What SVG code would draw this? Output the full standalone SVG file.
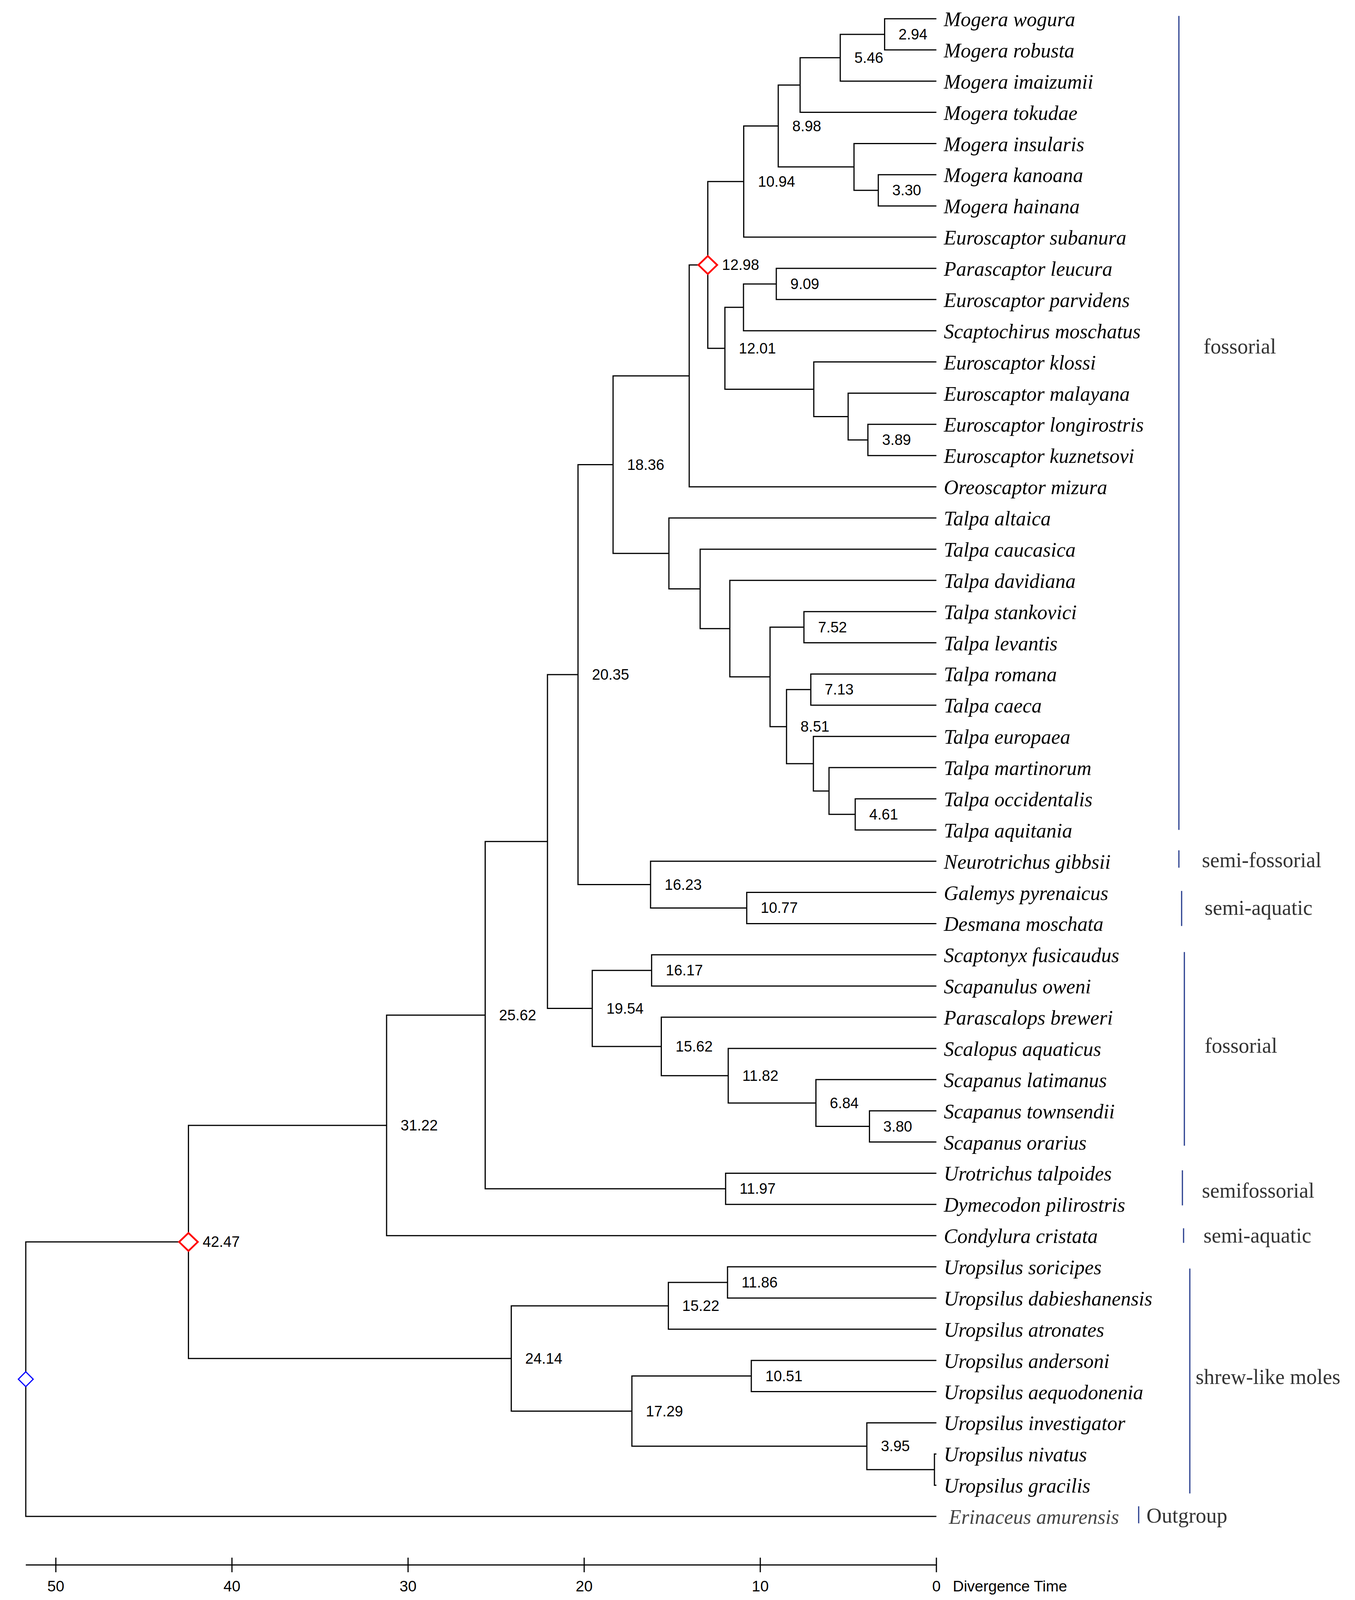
<svg xmlns="http://www.w3.org/2000/svg" width="3470" height="4610" viewBox="0 0 3470 4610">
<style>
.br{fill:none;stroke:#000;stroke-width:3;stroke-linejoin:miter;vector-effect:non-scaling-stroke}
.sp{font-family:"Liberation Serif","Times New Roman",serif;font-style:italic;font-size:52px;fill:#000}
.nl{font-family:"Liberation Sans",Arial,sans-serif;font-size:38px;fill:#000}
.gl{font-family:"Liberation Serif","Times New Roman",serif;font-size:54px;fill:#333}
.bar{stroke:#243a8c;stroke-width:3;vector-effect:non-scaling-stroke}
.tk{stroke:#000;stroke-width:3;vector-effect:non-scaling-stroke}
.ax{font-family:"Liberation Sans",Arial,sans-serif;font-size:39px;fill:#000}
.rd{fill:#fff;stroke:#f00;stroke-width:4.5}
.bd{fill:#fff;stroke:#00f;stroke-width:3}
</style>
<rect width="3470" height="4610" fill="#fff"/>
<g id="connectors" transform="scale(1 0.888503)">
<path class="br" d="M2398 54 H2265.4 V143.9 H2398"/>
<path class="br" d="M2265.4 98.95 H2151.8 V233.8 H2398"/>
<path class="br" d="M2151.8 166.4 H2049 V323.7 H2398"/>
<path class="br" d="M2398 503.5 H2249.2 V593.4 H2398"/>
<path class="br" d="M2398 413.6 H2187 V548.45 H2249.2"/>
<path class="br" d="M2049 245 H1993 V481 H2187"/>
<path class="br" d="M1993 363 H1904.6 V683.3 H2398"/>
<path class="br" d="M2398 773.2 H1988 V863.1 H2398"/>
<path class="br" d="M1988 818.15 H1904 V953 H2398"/>
<path class="br" d="M2398 1222.7 H2222.6 V1312.6 H2398"/>
<path class="br" d="M2398 1132.8 H2172 V1267.65 H2222.6"/>
<path class="br" d="M2398 1042.9 H2084 V1200.2 H2172"/>
<path class="br" d="M1904 885.6 H1856.4 V1121.6 H2084"/>
<path class="br" d="M1904.6 523.2 H1812.6 V1003.6 H1856.4"/>
<path class="br" d="M1812.6 763.4 H1765 V1402.5 H2398"/>
<path class="br" d="M2398 2301.5 H2190.1 V2391.4 H2398"/>
<path class="br" d="M2398 2211.6 H2123 V2346.45 H2190.1"/>
<path class="br" d="M2398 2121.7 H2083 V2279 H2123"/>
<path class="br" d="M2398 1941.9 H2076.4 V2031.8 H2398"/>
<path class="br" d="M2076.4 1986.85 H2014.2 V2200.4 H2083"/>
<path class="br" d="M2398 1762.1 H2058.8 V1852 H2398"/>
<path class="br" d="M2058.8 1807.05 H1972 V2093.6 H2014.2"/>
<path class="br" d="M2398 1672.2 H1869 V1950.3 H1972"/>
<path class="br" d="M2398 1582.3 H1793 V1811.25 H1869"/>
<path class="br" d="M2398 1492.4 H1713 V1696.8 H1793"/>
<path class="br" d="M1765 1083 H1570 V1594.6 H1713"/>
<path class="br" d="M2398 2571.2 H1912.3 V2661.1 H2398"/>
<path class="br" d="M2398 2481.3 H1666 V2616.15 H1912.3"/>
<path class="br" d="M1570 1338.8 H1480.2 V2548.7 H1666"/>
<path class="br" d="M2398 2751 H1668.7 V2840.9 H2398"/>
<path class="br" d="M2398 3200.5 H2226.6 V3290.4 H2398"/>
<path class="br" d="M2398 3110.6 H2089.5 V3245.45 H2226.6"/>
<path class="br" d="M2398 3020.7 H1864.9 V3178 H2089.5"/>
<path class="br" d="M2398 2930.8 H1693.5 V3099.35 H1864.9"/>
<path class="br" d="M1668.7 2795.95 H1516.7 V3015.1 H1693.5"/>
<path class="br" d="M1480.2 1943.75 H1402 V2905.5 H1516.7"/>
<path class="br" d="M2398 3380.3 H1858.2 V3470.2 H2398"/>
<path class="br" d="M1402 2424.6 H1242.5 V3425.25 H1858.2"/>
<path class="br" d="M1242.5 2924.9 H990 V3560.1 H2398"/>
<path class="br" d="M2398 3650 H1863.1 V3739.9 H2398"/>
<path class="br" d="M1863.1 3694.95 H1711.6 V3829.8 H2398"/>
<path class="br" d="M2398 3919.7 H1924 V4009.6 H2398"/>
<path class="br" d="M2398 4189.4 H2393 V4279.3 H2398"/>
<path class="br" d="M2398 4099.5 H2219.9 V4234.35 H2393"/>
<path class="br" d="M1924 3964.65 H1618.2 V4166.9 H2219.9"/>
<path class="br" d="M1711.6 3762.4 H1309.3 V4065.8 H1618.2"/>
<path class="br" d="M990 3242.5 H482.6 V3914.1 H1309.3"/>
<path class="br" d="M482.6 3578.3 H66 V4369.2 H2398"/>
</g>
<g id="leaves">
<g id="leaf-01"><text class="sp" x="2417" y="67">Mogera wogura</text></g>
<g id="leaf-02"><text class="sp" x="2417" y="146.9">Mogera robusta</text></g>
<g id="leaf-03"><text class="sp" x="2417" y="226.7">Mogera imaizumii</text></g>
<g id="leaf-04"><text class="sp" x="2417" y="306.6">Mogera tokudae</text></g>
<g id="leaf-05"><text class="sp" x="2417" y="386.5">Mogera insularis</text></g>
<g id="leaf-06"><text class="sp" x="2417" y="466.4">Mogera kanoana</text></g>
<g id="leaf-07"><text class="sp" x="2417" y="546.2">Mogera hainana</text></g>
<g id="leaf-08"><text class="sp" x="2417" y="626.1">Euroscaptor subanura</text></g>
<g id="leaf-09"><text class="sp" x="2417" y="706">Parascaptor leucura</text></g>
<g id="leaf-10"><text class="sp" x="2417" y="785.9">Euroscaptor parvidens</text></g>
<g id="leaf-11"><text class="sp" x="2417" y="865.7">Scaptochirus moschatus</text></g>
<g id="leaf-12"><text class="sp" x="2417" y="945.6">Euroscaptor klossi</text></g>
<g id="leaf-13"><text class="sp" x="2417" y="1025.5">Euroscaptor malayana</text></g>
<g id="leaf-14"><text class="sp" x="2417" y="1105.4">Euroscaptor longirostris</text></g>
<g id="leaf-15"><text class="sp" x="2417" y="1185.2">Euroscaptor kuznetsovi</text></g>
<g id="leaf-16"><text class="sp" x="2417" y="1265.1">Oreoscaptor mizura</text></g>
<g id="leaf-17"><text class="sp" x="2417" y="1345">Talpa altaica</text></g>
<g id="leaf-18"><text class="sp" x="2417" y="1424.9">Talpa caucasica</text></g>
<g id="leaf-19"><text class="sp" x="2417" y="1504.7">Talpa davidiana</text></g>
<g id="leaf-20"><text class="sp" x="2417" y="1584.6">Talpa stankovici</text></g>
<g id="leaf-21"><text class="sp" x="2417" y="1664.5">Talpa levantis</text></g>
<g id="leaf-22"><text class="sp" x="2417" y="1744.4">Talpa romana</text></g>
<g id="leaf-23"><text class="sp" x="2417" y="1824.2">Talpa caeca</text></g>
<g id="leaf-24"><text class="sp" x="2417" y="1904.1">Talpa europaea</text></g>
<g id="leaf-25"><text class="sp" x="2417" y="1984">Talpa martinorum</text></g>
<g id="leaf-26"><text class="sp" x="2417" y="2063.9">Talpa occidentalis</text></g>
<g id="leaf-27"><text class="sp" x="2417" y="2143.7">Talpa aquitania</text></g>
<g id="leaf-28"><text class="sp" x="2417" y="2223.6">Neurotrichus gibbsii</text></g>
<g id="leaf-29"><text class="sp" x="2417" y="2303.5">Galemys pyrenaicus</text></g>
<g id="leaf-30"><text class="sp" x="2417" y="2383.4">Desmana moschata</text></g>
<g id="leaf-31"><text class="sp" x="2417" y="2463.3">Scaptonyx fusicaudus</text></g>
<g id="leaf-32"><text class="sp" x="2417" y="2543.1">Scapanulus oweni</text></g>
<g id="leaf-33"><text class="sp" x="2417" y="2623">Parascalops breweri</text></g>
<g id="leaf-34"><text class="sp" x="2417" y="2702.9">Scalopus aquaticus</text></g>
<g id="leaf-35"><text class="sp" x="2417" y="2782.8">Scapanus latimanus</text></g>
<g id="leaf-36"><text class="sp" x="2417" y="2862.6">Scapanus townsendii</text></g>
<g id="leaf-37"><text class="sp" x="2417" y="2942.5">Scapanus orarius</text></g>
<g id="leaf-38"><text class="sp" x="2417" y="3022.4">Urotrichus talpoides</text></g>
<g id="leaf-39"><text class="sp" x="2417" y="3102.3">Dymecodon pilirostris</text></g>
<g id="leaf-40"><text class="sp" x="2417" y="3182.1">Condylura cristata</text></g>
<g id="leaf-41"><text class="sp" x="2417" y="3262">Uropsilus soricipes</text></g>
<g id="leaf-42"><text class="sp" x="2417" y="3341.9">Uropsilus dabieshanensis</text></g>
<g id="leaf-43"><text class="sp" x="2417" y="3421.8">Uropsilus atronates</text></g>
<g id="leaf-44"><text class="sp" x="2417" y="3501.6">Uropsilus andersoni</text></g>
<g id="leaf-45"><text class="sp" x="2417" y="3581.5">Uropsilus aequodonenia</text></g>
<g id="leaf-46"><text class="sp" x="2417" y="3661.4">Uropsilus investigator</text></g>
<g id="leaf-47"><text class="sp" x="2417" y="3741.3">Uropsilus nivatus</text></g>
<g id="leaf-48"><text class="sp" x="2417" y="3821.1">Uropsilus gracilis</text></g>
<g id="leaf-49"><text class="sp" x="2430" y="3901" style="fill:#444">Erinaceus amurensis</text></g>
</g>
<g id="nodes">
<g id="n-2.94"><text class="nl" x="2301" y="100.9">2.94</text></g>
<g id="n-5.46"><text class="nl" x="2188" y="160.8">5.46</text></g>
<g id="n-8.98"><text class="nl" x="2029" y="335.5">8.98</text></g>
<g id="n-3.30"><text class="nl" x="2285" y="500.3">3.30</text></g>
<g id="n-10.94"><text class="nl" x="1941" y="477.9">10.94</text></g>
<g id="n-12.98"><path class="rd" d="M1812.6 655.3 L1836.6 678.3 L1812.6 701.3 L1788.6 678.3 Z"/><text class="nl" x="1849" y="691.3">12.98</text></g>
<g id="n-9.09"><text class="nl" x="2024" y="739.9">9.09</text></g>
<g id="n-12.01"><text class="nl" x="1892" y="904.7">12.01</text></g>
<g id="n-3.89"><text class="nl" x="2259" y="1139.3">3.89</text></g>
<g id="n-18.36"><text class="nl" x="1606" y="1202.5">18.36</text></g>
<g id="n-7.52"><text class="nl" x="2095" y="1618.6">7.52</text></g>
<g id="n-7.13"><text class="nl" x="2112" y="1778.3">7.13</text></g>
<g id="n-8.51"><text class="nl" x="2050" y="1873.2">8.51</text></g>
<g id="n-4.61"><text class="nl" x="2226" y="2097.8">4.61</text></g>
<g id="n-20.35"><text class="nl" x="1516" y="1740">20.35</text></g>
<g id="n-16.23"><text class="nl" x="1702" y="2277.5">16.23</text></g>
<g id="n-10.77"><text class="nl" x="1948" y="2337.4">10.77</text></g>
<g id="n-16.17"><text class="nl" x="1705" y="2497.2">16.17</text></g>
<g id="n-19.54"><text class="nl" x="1553" y="2594.5">19.54</text></g>
<g id="n-15.62"><text class="nl" x="1730" y="2691.9">15.62</text></g>
<g id="n-11.82"><text class="nl" x="1901" y="2766.8">11.82</text></g>
<g id="n-6.84"><text class="nl" x="2125" y="2836.7">6.84</text></g>
<g id="n-3.80"><text class="nl" x="2262" y="2896.6">3.80</text></g>
<g id="n-11.97"><text class="nl" x="1894" y="3056.3">11.97</text></g>
<g id="n-25.62"><text class="nl" x="1278" y="2611.8">25.62</text></g>
<g id="n-31.22"><text class="nl" x="1026" y="2894">31.22</text></g>
<g id="n-42.47"><path class="rd" d="M482.6 3156.3 L506.6 3179.3 L482.6 3202.3 L458.6 3179.3 Z"/><text class="nl" x="519" y="3192.3">42.47</text></g>
<g id="n-24.14"><text class="nl" x="1345" y="3490.7">24.14</text></g>
<g id="n-15.22"><text class="nl" x="1747" y="3355.9">15.22</text></g>
<g id="n-11.86"><text class="nl" x="1899" y="3296">11.86</text></g>
<g id="n-17.29"><text class="nl" x="1654" y="3625.5">17.29</text></g>
<g id="n-10.51"><text class="nl" x="1960" y="3535.6">10.51</text></g>
<g id="n-3.95"><text class="nl" x="2256" y="3715.3">3.95</text></g>
<g id="n-root"><path class="bd" d="M66 3511.7 L85 3530.7 L66 3549.7 L47 3530.7 Z"/></g>
</g>
<g id="groups">
<g transform="scale(1 0.888503)">
<line class="bar" x1="3019" y1="46" x2="3019" y2="2391"/>
<line class="bar" x1="3019" y1="2450" x2="3019" y2="2500"/>
<line class="bar" x1="3026" y1="2567" x2="3026" y2="2668"/>
<line class="bar" x1="3033" y1="2743" x2="3033" y2="3301"/>
<line class="bar" x1="3028" y1="3372" x2="3028" y2="3473"/>
<line class="bar" x1="3031" y1="3539" x2="3031" y2="3581"/>
<line class="bar" x1="3047" y1="3655" x2="3047" y2="4303"/>
<line class="bar" x1="2916" y1="4340" x2="2916" y2="4389"/>
</g>
<text class="gl" x="3082" y="904.8">fossorial</text>
<text class="gl" x="3078" y="2219.8">semi-fossorial</text>
<text class="gl" x="3085" y="2341.5">semi-aquatic</text>
<text class="gl" x="3085" y="2695.2">fossorial</text>
<text class="gl" x="3078" y="3065.7">semifossorial</text>
<text class="gl" x="3082" y="3181.2">semi-aquatic</text>
<text class="gl" x="3062" y="3542.8">shrew-like moles</text>
<text class="gl" x="2936" y="3898.2">Outgroup</text>
</g>
<g id="axis">
<g transform="scale(1 0.888503)">
<line class="tk" x1="66" y1="4509" x2="2398" y2="4509"/>
<line class="tk" x1="143" y1="4488" x2="143" y2="4530"/>
<line class="tk" x1="594" y1="4488" x2="594" y2="4530"/>
<line class="tk" x1="1045" y1="4488" x2="1045" y2="4530"/>
<line class="tk" x1="1496" y1="4488" x2="1496" y2="4530"/>
<line class="tk" x1="1947" y1="4488" x2="1947" y2="4530"/>
<line class="tk" x1="2398" y1="4488" x2="2398" y2="4530"/>
</g>
<g class="ax" text-anchor="middle">
<text x="143" y="4074">50</text>
<text x="594" y="4074">40</text>
<text x="1045" y="4074">30</text>
<text x="1496" y="4074">20</text>
<text x="1947" y="4074">10</text>
<text x="2398" y="4074">0</text>
</g>
<text class="ax" x="2440" y="4074">Divergence Time</text>
</g>
</svg>
